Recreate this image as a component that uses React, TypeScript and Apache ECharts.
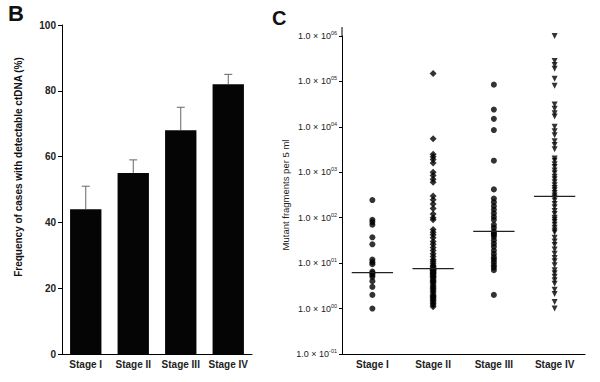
import React, { useEffect, useRef } from "react";
import * as echarts from "echarts";

const stages = ["Stage I", "Stage II", "Stage III", "Stage IV"];

// Panel B: bar means and upper error values (%)
const detectFreq = [44, 55, 68, 82];
const detectErrUpper = [51, 59, 75, 85];
const freqTicks = [0, 20, 40, 60, 80, 100];

// Panel C: mutant fragments per 5 ml
const stageIValues = [245, 90, 80, 70, 37, 26, 12, 10.5, 9.5, 6.5, 6, 5.5, 5, 4, 3, 2, 1];
const stageIIValues = [
  150000, 5500, 2500, 2200, 1900, 1600, 1000, 850, 700, 600, 300, 250, 200, 160, 120, 100, 90,
  55, 48, 42, 36, 30, 26, 22, 19, 16, 14, 12, 11, 10, 9, 8.5, 8,
  7.4, 7.2, 7, 6.8, 6.5, 6.2, 6, 5.8, 5.5, 5.2, 5, 4.8, 4.5, 4.2, 4, 3.8, 3.5, 3.2, 3, 2.8,
  2.6, 2.4, 2.2, 2, 1.9, 1.8, 1.7, 1.6, 1.5, 1.4, 1.3, 1.2, 1.1,
];
const stageIIIValues = [
  85000, 24000, 15000, 8500, 1800, 420, 265, 220, 180, 150, 125, 105, 90, 70, 60, 50,
  45, 42, 38, 32, 27, 23, 19, 16, 13.5, 12, 10.5, 9, 8, 7, 2,
];
const stageIVValues = [
  1000000, 280000, 230000, 190000, 115000, 80000, 31000, 25000, 20000, 17000, 10000, 8000,
  6500, 4800, 4000, 3200, 2000, 1800, 1500, 1300, 1100, 950, 800, 700, 600, 520, 450, 400,
  350, 310, 280, 240, 200, 170, 140, 120, 100, 90, 80, 70, 60, 52, 47, 36, 30, 25, 20, 16,
  13, 11, 9, 7, 6, 5, 4.2, 3.5, 2.6, 2.1, 1.4, 1,
];
const medians = [6.2, 7.6, 50, 294];

const FONT = 'Arial, "Liberation Sans", sans-serif';
const supMap: Record<number, string> = { [-1]: "-01", 0: "00", 1: "01", 2: "02", 3: "03", 4: "04", 5: "05", 6: "06" };

export default function App() {
  const ref = useRef<HTMLDivElement>(null);
  useEffect(() => {
    if (!ref.current) return;
    const chart = echarts.init(ref.current, null, { renderer: "svg" });
    const scatterSeries = (vals: number[], idx: number, symbol: string, size: number, rotate = 0) => ({
      type: "scatter",
      xAxisIndex: 1,
      yAxisIndex: 1,
      symbol,
      symbolSize: size,
      symbolRotate: rotate,
      itemStyle: { color: "#000" },
      data: vals.map((v) => [stages[idx], v]),
      z: 3,
    });
    const xLabel = {
      color: "#222",
      fontSize: 10,
      fontWeight: "bold",
      margin: 5,
      fontFamily: FONT,
      interval: 0,
      hideOverlap: false,
    };
    chart.setOption({
      animation: false,
      backgroundColor: "#fff",
      textStyle: { fontFamily: FONT },
      grid: [
        { left: 62, right: 348, top: 25, bottom: 28 },
        { left: 342, right: 15, top: 36, bottom: 28 },
      ],
      xAxis: [
        {
          gridIndex: 0,
          type: "category",
          data: stages,
          axisLine: { lineStyle: { color: "#000", width: 1 } },
          axisTick: { show: false },
          axisLabel: xLabel,
        },
        {
          gridIndex: 1,
          type: "category",
          data: stages,
          axisLine: { lineStyle: { color: "#000", width: 1 } },
          axisTick: { show: false },
          axisLabel: xLabel,
        },
      ],
      yAxis: [
        {
          gridIndex: 0,
          type: "value",
          min: freqTicks[0],
          max: freqTicks[freqTicks.length - 1],
          interval: 20,
          splitLine: { show: false },
          axisLine: { show: true, lineStyle: { color: "#000", width: 1 } },
          axisTick: { show: true, length: 4, lineStyle: { color: "#000" } },
          axisLabel: { color: "#222", fontSize: 10, fontWeight: "bold", margin: 6, fontFamily: FONT },
        },
        {
          gridIndex: 1,
          type: "log",
          logBase: 10,
          min: 0.1,
          max: 1000000,
          splitLine: { show: false },
          minorTick: { show: false },
          name: "Mutant fragments per 5 ml",
          nameLocation: "middle",
          nameGap: 52,
          nameTextStyle: { fontSize: 9.5, color: "#222", fontFamily: FONT },
          axisLine: { show: true, lineStyle: { color: "#000", width: 1 } },
          axisTick: { show: true, length: 3, lineStyle: { color: "#000" } },
          axisLabel: {
            color: "#222",
            fontSize: 9,
            margin: 5,
            fontFamily: FONT,
            formatter: (v: number) => {
              const e = Math.round(Math.log10(v));
              return "1.0 × 10{s|" + (supMap[e] ?? String(e)) + "}";
            },
            rich: {
              s: { fontSize: 5.5, verticalAlign: "top", padding: [0, 0, 6, 0], color: "#222", fontFamily: FONT },
            },
          },
        },
      ],
      graphic: [
        { type: "text", left: 8, top: 2, style: { text: "B", font: `bold 22px ${FONT}`, fill: "#111" } },
        { type: "text", left: 272, top: 8, style: { text: "C", font: `bold 20px ${FONT}`, fill: "#111" } },
        {
          type: "text",
          x: 18,
          y: 167,
          rotation: Math.PI / 2,
          style: {
            text: "Frequency of cases with detectable ctDNA (%)",
            font: `bold 10px ${FONT}`,
            fill: "#111",
            align: "center",
            verticalAlign: "middle",
          },
        },
        { type: "line", shape: { x1: 342, y1: 27, x2: 342, y2: 36 }, style: { stroke: "#000", lineWidth: 1 } },
      ],
      series: [
        {
          type: "bar",
          xAxisIndex: 0,
          yAxisIndex: 0,
          data: detectFreq,
          barWidth: "66%",
          itemStyle: { color: "#050505" },
          z: 2,
        },
        {
          type: "custom",
          xAxisIndex: 0,
          yAxisIndex: 0,
          data: stages.map((s, i) => [i, detectFreq[i], detectErrUpper[i]]),
          z: 3,
          renderItem: (params: any, api: any) => {
            const lo = api.coord([api.value(0), api.value(1)]);
            const hi = api.coord([api.value(0), api.value(2)]);
            const cap = 4;
            return {
              type: "group",
              children: [
                { type: "line", shape: { x1: lo[0], y1: lo[1], x2: hi[0], y2: hi[1] }, style: { stroke: "#666", lineWidth: 1 } },
                { type: "line", shape: { x1: hi[0] - cap, y1: hi[1], x2: hi[0] + cap, y2: hi[1] }, style: { stroke: "#666", lineWidth: 1 } },
              ],
            };
          },
        },
        scatterSeries(stageIValues, 0, "circle", 6),
        scatterSeries(stageIIValues, 1, "diamond", 7),
        scatterSeries(stageIIIValues, 2, "circle", 6),
        scatterSeries(stageIVValues, 3, "triangle", 6, 180),
        {
          type: "custom",
          xAxisIndex: 1,
          yAxisIndex: 1,
          data: medians.map((m, i) => [i, m]),
          z: 4,
          renderItem: (params: any, api: any) => {
            const c = api.coord([api.value(0), api.value(1)]);
            const band = api.size([1, api.value(1)])[0];
            const w = band * 0.34;
            return {
              type: "line",
              shape: { x1: c[0] - w, y1: c[1], x2: c[0] + w, y2: c[1] },
              style: { stroke: "#222", lineWidth: 1.3 },
            };
          },
        },
      ],
    });
    return () => chart.dispose();
  }, []);
  return <div ref={ref} style={{ position: "fixed", left: 0, top: 0, width: 600, height: 382 }} />;
}
